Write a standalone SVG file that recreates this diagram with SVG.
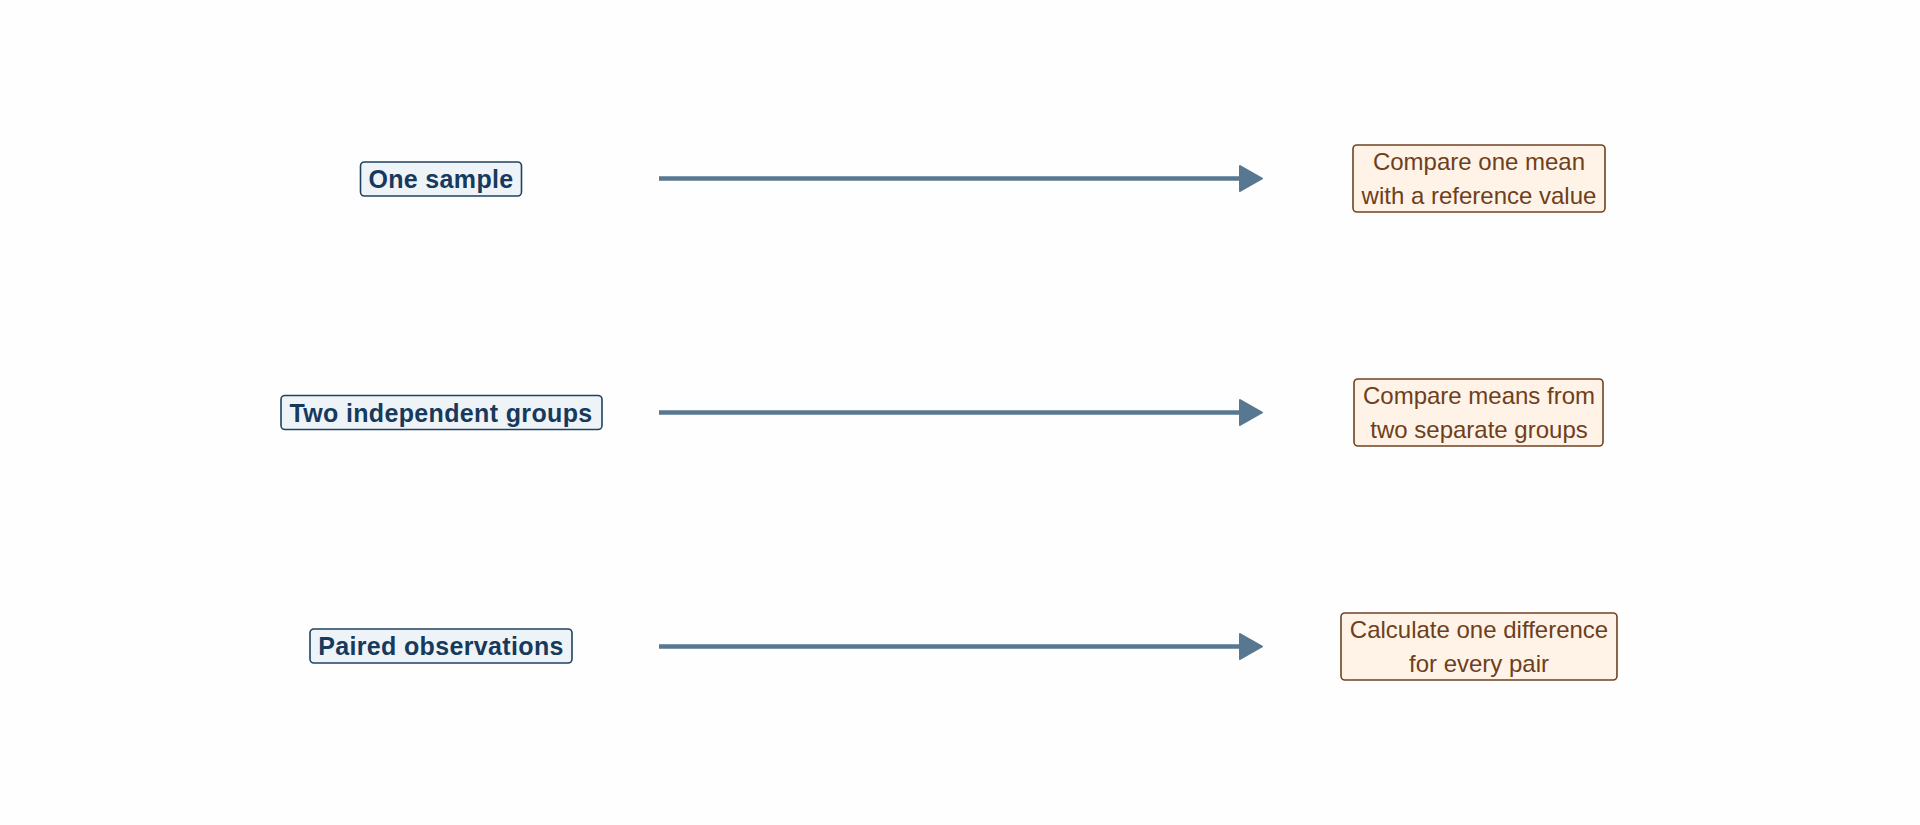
<svg xmlns="http://www.w3.org/2000/svg" width="1920" height="825" viewBox="0 0 1920 825">
<style>
.lbox{fill:#eef3f8;stroke:#1f4262;stroke-width:1.6}
.ltxt{font-family:"Liberation Sans",Arial,sans-serif;font-weight:bold;font-size:25px;letter-spacing:0.35px;fill:#173a5c;text-anchor:middle}
.rbox{fill:#fff3e7;stroke:#6e4120;stroke-width:1.6}
.rtxt{font-family:"Liberation Sans",Arial,sans-serif;font-size:24px;fill:#6e3f1c;text-anchor:middle}
.edge{stroke:#587790;stroke-width:4.4;fill:none}
.head{fill:#587790;stroke:#587790;stroke-width:2;stroke-linejoin:round}
</style>
<rect width="1920" height="825" fill="#fefefe"/>
<g id="connectors">
<line class="edge" x1="659" y1="178.5" x2="1242" y2="178.5"/>
<polygon class="head" points="1240,166 1262,178.5 1240,191"/>
<line class="edge" x1="659" y1="412.5" x2="1242" y2="412.5"/>
<polygon class="head" points="1240,400 1262,412.5 1240,425"/>
<line class="edge" x1="659" y1="646.5" x2="1242" y2="646.5"/>
<polygon class="head" points="1240,634 1262,646.5 1240,659"/>
</g>
<g id="one-sample">
<rect class="lbox" x="360.5" y="162" width="161" height="34" rx="4"/>
<text class="ltxt" x="441" y="188">One sample</text>
</g>
<g id="two-groups">
<rect class="lbox" x="281" y="395.5" width="321" height="34" rx="4"/>
<text class="ltxt" x="441" y="421.5">Two independent groups</text>
</g>
<g id="paired">
<rect class="lbox" x="310" y="629" width="262" height="34" rx="4"/>
<text class="ltxt" x="441" y="655">Paired observations</text>
</g>
<g id="one-mean">
<rect class="rbox" x="1353" y="145" width="252" height="67" rx="4"/>
<text class="rtxt" x="1479" y="169.5">Compare one mean</text>
<text class="rtxt" x="1479" y="204">with a reference value</text>
</g>
<g id="two-means">
<rect class="rbox" x="1354" y="379" width="249" height="67" rx="4"/>
<text class="rtxt" x="1479" y="403.5">Compare means from</text>
<text class="rtxt" x="1479" y="438">two separate groups</text>
</g>
<g id="difference">
<rect class="rbox" x="1341" y="613" width="276" height="67" rx="4"/>
<text class="rtxt" x="1479" y="637.5">Calculate one difference</text>
<text class="rtxt" x="1479" y="672">for every pair</text>
</g>
</svg>
